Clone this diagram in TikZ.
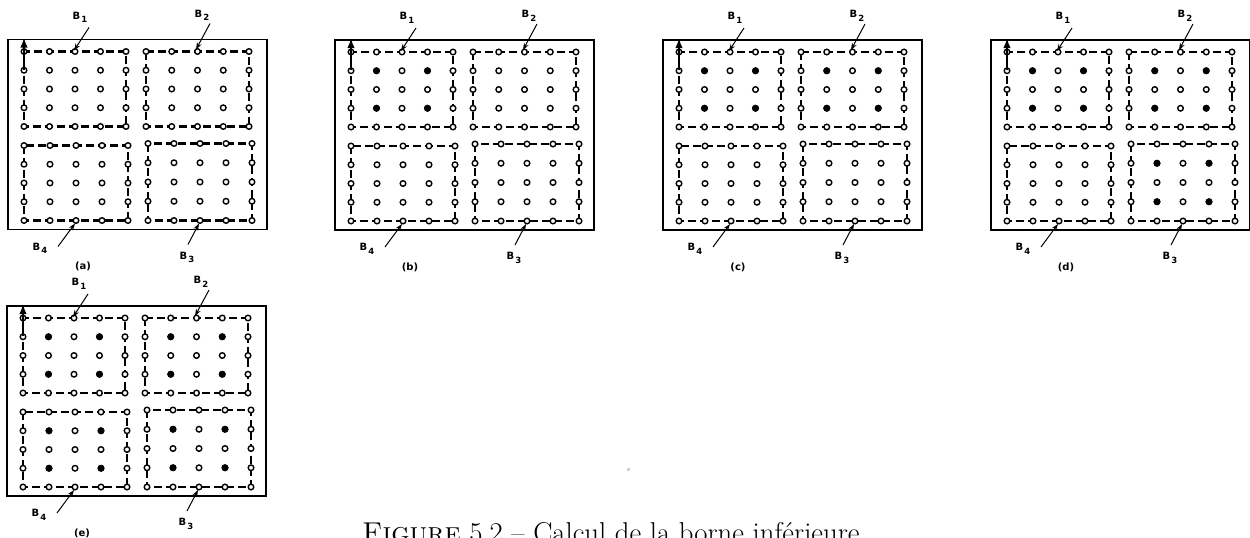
\documentclass[tikz,border=0pt]{standalone}
\usepackage{fontspec}
\newfontfamily\labfont{DejaVu Sans}
\usetikzlibrary{arrows.meta}
\tikzset{
  frame/.style={line width=1.3pt},
  dashbox/.style={line width=2.1pt, dash pattern=on 8pt off 4pt},
  dotline/.style={line width=1.4pt},
  blab/.style={font=\labfont\bfseries\fontsize{10}{12}\selectfont, inner sep=0pt},
  ptr/.style={line width=1pt, -{Stealth[length=7pt,width=5pt]}},
  uparrow/.style={line width=2pt, -{Latex[length=10pt,width=7.5pt]}},
}
\newcommand\sbs[1]{\kern1pt\raisebox{-3.5pt}{\fontsize{8.5}{9}\selectfont#1}}
\newcommand\blk[5]{%
  \draw[dashbox] (#1,#2) rectangle ++(#3,#4);
  \foreach \i in {0,...,4}{\foreach \j in {0,...,4}{
    \draw[dotline, fill=white] ({#1+\i*#3/4},{#2+\j*#4/4}) circle (2.8pt);}}
  \ifnum#5=1
    \foreach \i in {1,3}{\foreach \j in {1,3}{
      \fill ({#1+\i*#3/4},{#2+\j*#4/4}) circle (3.4pt);}}
  \fi}
\newcommand\pnl[7]{%
  \begin{scope}[shift={(#1,#2)}]
    \draw[frame] (0,0) rectangle (259,190);
    \blk{16}{12}{102}{75}{#4}
    \blk{138}{12}{103}{75}{#5}
    \blk{140}{104}{104}{77}{#6}
    \blk{16}{106}{104}{75}{#7}
    \coordinate (#3low) at (16,30);
    \coordinate (#3top) at (16,-2);
    \draw[uparrow] (#3low) -- (#3top);
    \node[blab] (#3B1) at (72,-22) {B\sbs{1}};
    \node[blab] (#3B2) at (194,-24) {B\sbs{2}};
    \node[blab] (#3B4) at (32,209) {B\sbs{4}};
    \node[blab] (#3B3) at (179,218) {B\sbs{3}};
    \coordinate (#3s1) at (81,-12); \coordinate (#3t1) at (66,11);
    \coordinate (#3s2) at (202,-16); \coordinate (#3t2) at (188,10);
    \coordinate (#3s4) at (50,207); \coordinate (#3t4) at (67,184);
    \coordinate (#3s3) at (180,205); \coordinate (#3t3) at (191,184);
    \draw[ptr] (#3s1) -- (#3t1);
    \draw[ptr] (#3s2) -- (#3t2);
    \draw[ptr] (#3s4) -- (#3t4);
    \draw[ptr] (#3s3) -- (#3t3);
    \node[blab] (#3lab) at (75,227) {(#3)};
  \end{scope}}
\begin{document}
\begin{tikzpicture}[x=1pt,y=-1pt]
  \useasboundingbox (0,0) rectangle (1250,538);
  \pnl{8}{39.5}{a}{0}{0}{0}{0}
  \pnl{335}{40}{b}{1}{0}{0}{0}
  \pnl{663}{40}{c}{1}{1}{0}{0}
  \pnl{991}{40}{d}{1}{1}{1}{0}
  \pnl{7}{306}{e}{1}{1}{1}{1}
  \fill[gray!35] (627,468) rectangle (629.5,470.5);
  \node[anchor=base west, inner sep=0pt, font=\fontsize{28.7}{32}\selectfont] (cap) at (362,542)
    {\textsc{Figure} 5.2 – Calcul de la borne inférieure};
\end{tikzpicture}
\end{document}
